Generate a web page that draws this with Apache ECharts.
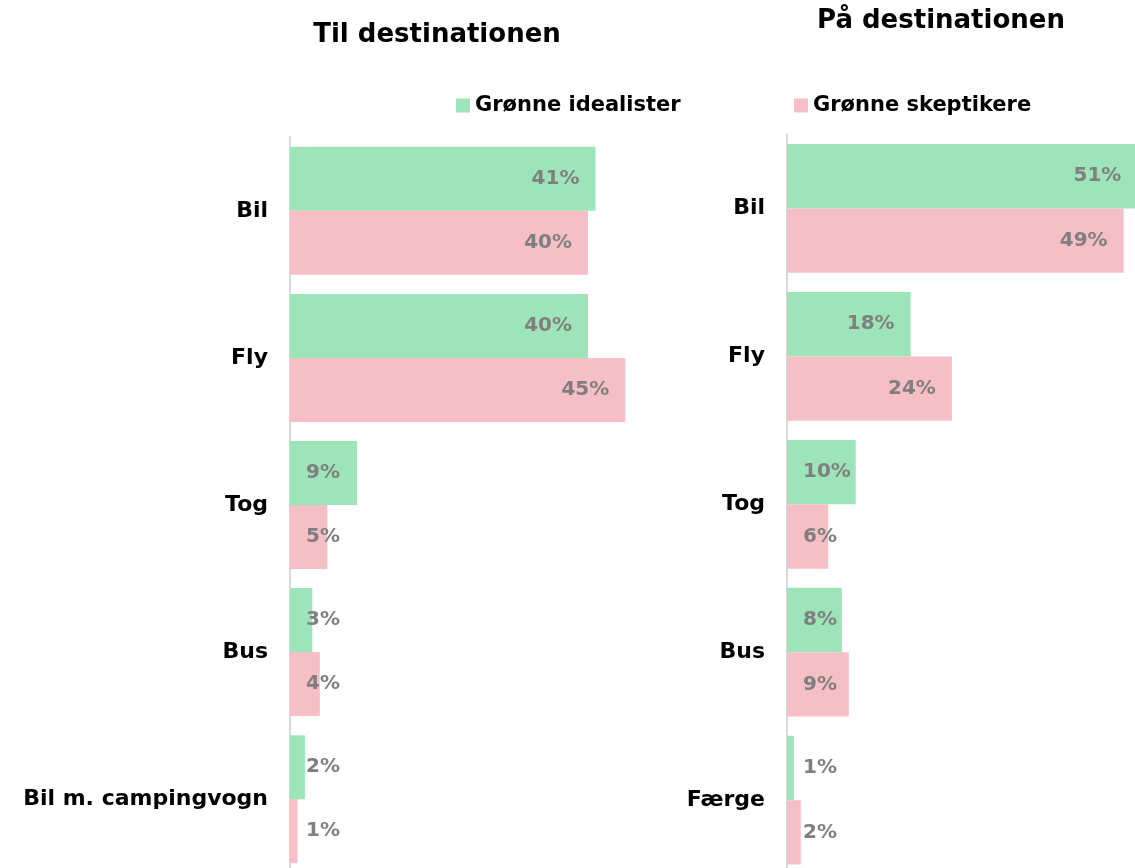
<!DOCTYPE html>
<html>
<head>
<meta charset="utf-8">
<script src="https://cdn.jsdelivr.net/npm/echarts@6/dist/echarts.min.js"></script>
<style>
  html, body { margin: 0; padding: 0; background: #fff; }
  #chart { width: 1135px; height: 868px; }
</style>
</head>
<body>
<div id="chart"></div>
<script>
// data
var categoriesTil = ['Bil', 'Fly', 'Tog', 'Bus', 'Bil m. campingvogn'];
var idealisterTil = [41, 40, 9, 3, 2];
var skeptikereTil = [40, 45, 5, 4, 1];

var categoriesPaa = ['Bil', 'Fly', 'Tog', 'Bus', 'Færge'];
var idealisterPaa = [51, 18, 10, 8, 1];
var skeptikerePaa = [49, 24, 6, 9, 2];

var seriesNames = ['Grønne idealister', 'Grønne skeptikere'];
var titles = ['Til destinationen', 'På destinationen'];

var GREEN = '#9de5b9';
var PINK = '#f6bfc5';
var FONT = 'DejaVu Sans';

// small bars get the label from the left, big ones at the end (like the excel original)
function withLabels(values) {
  return values.map(function (v) {
    return {
      value: v,
      label: { position: v > 12 ? 'insideRight' : 'insideLeft' }
    };
  });
}

function barSeries(name, color, values, idx) {
  return {
    name: name,
    type: 'bar',
    xAxisIndex: idx,
    yAxisIndex: idx,
    barGap: '0%',
    barCategoryGap: '13%',
    itemStyle: { color: color },
    label: {
      show: true,
      distance: 16,
      color: '#7f7f7f',
      fontFamily: FONT,
      fontWeight: 'bold',
      fontSize: 20,
      formatter: '{c}%'
    },
    data: withLabels(values)
  };
}

function catAxis(cats, idx) {
  return {
    type: 'category',
    gridIndex: idx,
    inverse: true,
    data: cats,
    axisLine: { show: true, lineStyle: { color: '#d9d9d9', width: 2 } },
    axisTick: { show: false },
    axisLabel: {
      margin: 22,
      color: '#000',
      fontFamily: FONT,
      fontWeight: 'bold',
      fontSize: 22
    }
  };
}

function valAxis(max, idx) {
  return {
    type: 'value',
    gridIndex: idx,
    min: 0,
    max: max,
    show: false
  };
}

var chart = echarts.init(document.getElementById('chart'), null, { renderer: 'canvas' });

var titleStyle = { fontFamily: FONT, fontWeight: 'bold', fontSize: 26, color: '#000' };
var legendText = { fontFamily: FONT, fontWeight: 'bold', fontSize: 21, color: '#000' };

var option = {
  backgroundColor: '#fff',
  animation: false,
  title: [
    { text: titles[0], left: 432, top: 17, textAlign: 'center', textStyle: titleStyle },
    { text: titles[1], left: 936, top: 3, textAlign: 'center', textStyle: titleStyle }
  ],
  legend: [
    {
      data: [seriesNames[0]], left: 451, top: 90,
      icon: 'rect', itemWidth: 14, itemHeight: 14, itemGap: 5,
      textStyle: legendText
    },
    {
      data: [seriesNames[1]], left: 789, top: 90,
      icon: 'rect', itemWidth: 14, itemHeight: 14, itemGap: 5,
      textStyle: legendText
    }
  ],
  grid: [
    { left: 290, top: 137.3, width: 50 * 7.45, height: 735.4, outerBoundsMode: 'none' },
    { left: 787, top: 134.5, width: 55 * 6.87, height: 739.6, outerBoundsMode: 'none' }
  ],
  xAxis: [valAxis(50, 0), valAxis(55, 1)],
  yAxis: [catAxis(categoriesTil, 0), catAxis(categoriesPaa, 1)],
  series: [
    barSeries(seriesNames[0], GREEN, idealisterTil, 0),
    barSeries(seriesNames[1], PINK, skeptikereTil, 0),
    barSeries(seriesNames[0], GREEN, idealisterPaa, 1),
    barSeries(seriesNames[1], PINK, skeptikerePaa, 1)
  ]
};

chart.setOption(option);
</script>
</body>
</html>
